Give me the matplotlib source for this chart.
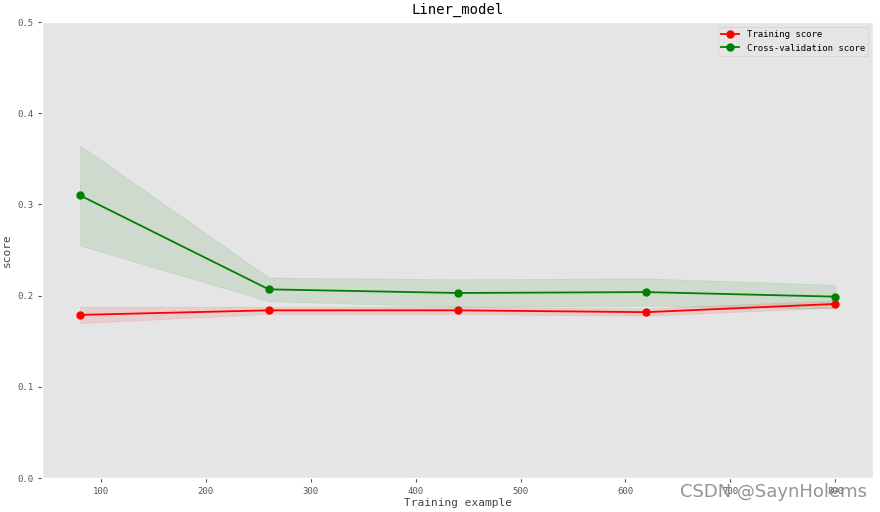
import matplotlib.pyplot as plt
import numpy as np

train_sizes = [80, 260, 440, 620, 800]
train_mean = [0.179, 0.184, 0.184, 0.182, 0.191]
train_std = [0.009, 0.004, 0.004, 0.004, 0.004]
cv_mean = [0.310, 0.207, 0.203, 0.204, 0.199]
cv_std = [0.055, 0.013, 0.015, 0.015, 0.013]

plt.style.use("ggplot")
plt.rcParams["font.family"] = ["DejaVu Sans Mono"]

fig = plt.figure(figsize=(8.8, 5.12), dpi=100)
ax = fig.add_axes([0.048, 0.066, 0.944, 0.891])
ax.grid(False)

tm, ts = np.array(train_mean), np.array(train_std)
cm, cs = np.array(cv_mean), np.array(cv_std)
ax.fill_between(train_sizes, tm - ts, tm + ts, alpha=0.1, color="r")
ax.fill_between(train_sizes, cm - cs, cm + cs, alpha=0.1, color="g")
ax.plot(train_sizes, train_mean, "o-", color="r", label="Training score", linewidth=1.3, markersize=5)
ax.plot(train_sizes, cv_mean, "o-", color="g", label="Cross-validation score", linewidth=1.3, markersize=5)

ax.set_ylim(0, 0.5)
ax.set_title("Liner_model", fontsize=10, color="black", pad=6)
ax.set_xlabel("Training example", fontsize=8, color="#444444", labelpad=1)
ax.set_ylabel("score", fontsize=8, color="#444444", labelpad=4)
ax.tick_params(axis="both", labelsize=6.5, colors="#555555", length=3)
ax.legend(loc="upper right", fontsize=6.5)

fig.text(0.985, 0.022, "CSDN @SaynHolems", ha="right", va="bottom",
         fontsize=13, color="#888888", family=["DejaVu Sans"], alpha=0.9)

fig.savefig("out.png")
